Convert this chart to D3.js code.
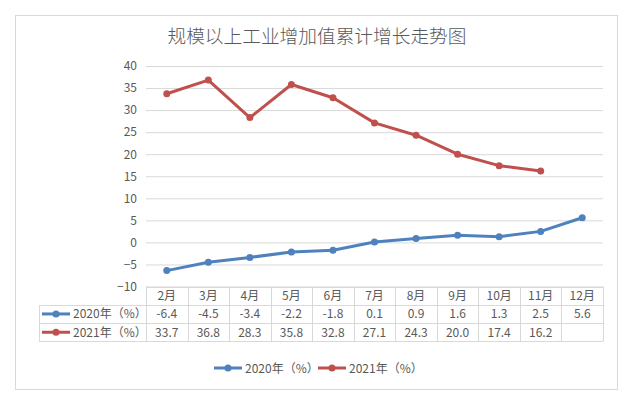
<!DOCTYPE html>
<html>
<head>
<meta charset="utf-8">
<script src="https://cdn.jsdelivr.net/npm/d3@7"></script>
<style>
  body { margin: 0; background: #fff; }
  text { font-family: "Noto Sans CJK SC", "Noto Sans", sans-serif; fill: #595959; }
</style>
</head>
<body>
<div id="chart"></div>
<script>
let months = ['2月', '3月', '4月', '5月', '6月', '7月', '8月', '9月', '10月', '11月', '12月'];
let values2020 = [-6.4, -4.5, -3.4, -2.2, -1.8, 0.1, 0.9, 1.6, 1.3, 2.5, 5.6];
let values2021 = [33.7, 36.8, 28.3, 35.8, 32.8, 27.1, 24.3, 20.0, 17.4, 16.2, null];
let seriesNames = ['2020年（%）', '2021年（%）'];
let seriesColors = ['#4f81bd', '#c0504d'];
let yTicks = [-10, -5, 0, 5, 10, 15, 20, 25, 30, 35, 40];

let width = 634, height = 393;
let margin = { "top": 66, "bottom": 106, "right": 31, "left": 146 };
let rowH = 18.3;

let svg = d3.select('#chart').append('svg').attr('width', width).attr('height', height);

// chart border
svg.append('rect')
    .attr('x', 15.5).attr('y', 15.5)
    .attr('width', 602).attr('height', 374)
    .attr('fill', '#fff').attr('stroke', '#d9d9d9');

svg.append('text')
    .attr('x', 317).attr('y', 43)
    .attr('text-anchor', 'middle')
    .style('font-size', '18.7px')
    .style('font-weight', 300)
    .text('规模以上工业增加值累计增长走势图');

let xScale = d3.scaleBand()
    .domain(months)
    .range([margin.left, width - margin.right]);
let yScale = d3.scaleLinear()
    .domain([-10, 40])
    .range([height - margin.bottom - 0.5, margin.top]);

// grid
let yAxis = d3.axisLeft(yScale)
    .tickValues(yTicks)
    .tickSize(-(width - margin.right - margin.left))
    .tickPadding(9);
let gy = svg.append('g')
    .attr('transform', 'translate(' + margin.left + ',0)')
    .call(yAxis);
gy.select('.domain').remove();
gy.selectAll('line').attr('stroke', '#d9d9d9');
gy.selectAll('text').style('font-size', '12px').attr('fill', '#595959');

// data table
let tableTop = yScale(-10);
let x0 = xScale.range()[0], x1 = xScale.range()[1];
let legendLeft = 39;
let table = svg.append('g').attr('class', 'table');
let hLines = [
    [x0, x1, tableTop],
    [legendLeft, x1, tableTop + rowH],
    [legendLeft, x1, tableTop + rowH * 2],
    [legendLeft, x1, tableTop + rowH * 3]
];
hLines.forEach(function (l) {
    table.append('line')
        .attr('x1', l[0]).attr('x2', l[1])
        .attr('y1', Math.round(l[2]) + 0.5).attr('y2', Math.round(l[2]) + 0.5)
        .attr('stroke', '#d9d9d9');
});
let vx = months.map(function (m) { return xScale(m); }).concat([x1]);
vx.forEach(function (x) {
    table.append('line')
        .attr('x1', Math.round(x) + 0.5).attr('x2', Math.round(x) + 0.5)
        .attr('y1', tableTop).attr('y2', Math.round(tableTop + rowH * 3) + 0.5)
        .attr('stroke', '#d9d9d9');
});
table.append('line')
    .attr('x1', legendLeft + 0.5).attr('x2', legendLeft + 0.5)
    .attr('y1', Math.round(tableTop + rowH) + 0.5).attr('y2', Math.round(tableTop + rowH * 3) + 0.5)
    .attr('stroke', '#d9d9d9');

table.selectAll('.hdr')
    .data(months)
    .enter()
    .append('text')
    .attr('x', function (d) { return xScale(d) + xScale.bandwidth() / 2; })
    .attr('y', tableTop + rowH / 2 + 4.5)
    .attr('text-anchor', 'middle')
    .style('font-size', '12px')
    .text(function (d) { return d; });

[values2020, values2021].forEach(function (vals, si) {
    let cy = tableTop + rowH * (si + 1.5);
    table.selectAll('.v' + si)
        .data(vals)
        .enter()
        .append('text')
        .attr('x', function (d, i) { return xScale(months[i]) + xScale.bandwidth() / 2; })
        .attr('y', cy + 4.5)
        .attr('text-anchor', 'middle')
        .style('font-size', '12px')
        .text(function (d) { return d === null ? '' : d.toFixed(1); });
    table.append('line')
        .attr('x1', 42).attr('x2', 70)
        .attr('y1', cy).attr('y2', cy)
        .attr('stroke', seriesColors[si]).attr('stroke-width', 3);
    table.append('circle')
        .attr('cx', 56).attr('cy', cy).attr('r', 3.5)
        .attr('fill', seriesColors[si]);
    table.append('text')
        .attr('x', 73).attr('y', cy + 4.5)
        .style('font-size', '12px')
        .text(seriesNames[si]);
});

// lines
let line = d3.line()
    .defined(function (d) { return d !== null; })
    .x(function (d, i) { return xScale(months[i]) + xScale.bandwidth() / 2; })
    .y(function (d) { return yScale(d); });

[values2020, values2021].forEach(function (vals, si) {
    svg.append('path')
        .attr('d', line(vals))
        .attr('fill', 'none')
        .attr('stroke', seriesColors[si])
        .attr('stroke-width', 3)
        .attr('stroke-linejoin', 'round');
    svg.append('g')
        .selectAll('circle')
        .data(vals)
        .enter()
        .append('circle')
        .select(function (d) { return d === null ? null : this; })
        .attr('cx', function (d, i) { return xScale(months[i]) + xScale.bandwidth() / 2; })
        .attr('cy', function (d) { return yScale(d); })
        .attr('r', 3.5)
        .attr('fill', seriesColors[si]);
});

// bottom legend
let legend = svg.append('g').attr('transform', 'translate(0,368)');
let legendX = [214, 318];
seriesNames.forEach(function (name, si) {
    let lx = legendX[si];
    legend.append('line')
        .attr('x1', lx).attr('x2', lx + 28)
        .attr('y1', 0).attr('y2', 0)
        .attr('stroke', seriesColors[si]).attr('stroke-width', 3);
    legend.append('circle')
        .attr('cx', lx + 14).attr('cy', 0).attr('r', 3.5)
        .attr('fill', seriesColors[si]);
    legend.append('text')
        .attr('x', lx + 31).attr('y', 4.5)
        .style('font-size', '12px')
        .text(name);
});
</script>
</body>
</html>
